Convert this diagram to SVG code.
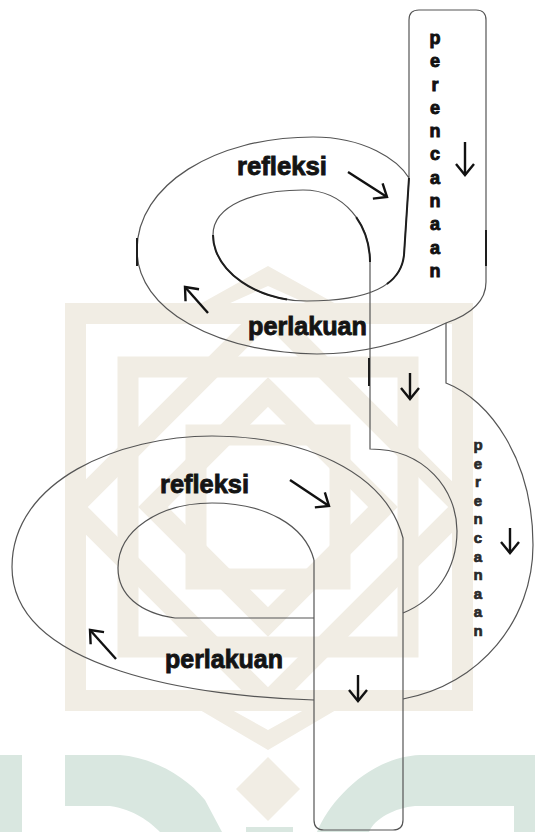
<svg xmlns="http://www.w3.org/2000/svg" width="535" height="832" viewBox="0 0 535 832">
<style>
.wm{fill:none;stroke:#f1ede4;stroke-width:21}
.wmf{fill:#f1ede4}
.tl{fill:#d9e7e0}
.ln{fill:none;stroke:#555;stroke-width:1.2}
.lnd{fill:none;stroke:#1e1e1e;stroke-width:2}
.ar{fill:none;stroke:#111;stroke-width:2.4;marker-end:url(#head)}
.lbl{font-family:"Liberation Sans",Arial,sans-serif;font-weight:bold;font-size:26px;fill:#141414;stroke:#141414;stroke-width:0.9}
.vt{font-family:"Liberation Sans",Arial,sans-serif;font-weight:bold;font-size:18px;fill:#111;stroke:#111;stroke-width:0.9;text-anchor:middle}
.vt2{font-family:"Liberation Sans",Arial,sans-serif;font-weight:bold;font-size:15px;fill:#2a2a2a;stroke:#2a2a2a;stroke-width:0.7;text-anchor:middle}
</style>
<defs>
<marker id="head" viewBox="-14 -12 16 24" markerWidth="16" markerHeight="24" refX="0" refY="0" orient="auto" markerUnits="userSpaceOnUse" overflow="visible">
<path d="M-11,-9 L0,0 L-11,9" fill="none" stroke="#111" stroke-width="2.4"/>
</marker>
<clipPath id="inner"><rect x="86" y="324" width="366" height="366"/></clipPath>
</defs>
<rect width="535" height="832" fill="#fff"/>
<g id="watermark">
<rect class="wm" x="75.5" y="313.5" width="387" height="387"/>
<g clip-path="url(#inner)">
<polygon class="wm" points="268,312 463,507 268,702 73,507"/>
<rect class="wm" x="128" y="367" width="280" height="280"/>
<polygon class="wm" points="268,392 383,507 268,622 153,507"/>
<rect class="wm" x="196" y="435" width="144" height="144"/>
</g>
<polygon class="wmf" points="200,304 268,266 336,304 308,304 268,286 228,304"/>
<polygon class="wmf" points="200,710 268,750 336,710 304,710 268,730 232,710"/>
<polygon class="wmf" points="268,757 300,789 268,821 236,789"/>
</g>
<g id="watermark-teal">
<rect class="tl" x="0" y="755" width="22" height="77"/>
<path class="tl" d="M65,755 H120 C150,757 185,775 205,800 L222,832 H160 C150,822 135,810 110,806 H65 Z"/>
<rect class="tl" x="246" y="827" width="47" height="5"/>
<path class="tl" d="M317,832 C330,800 370,757 420,755 H535 V832 H514 V806 H415 C395,808 375,818 369,832 Z"/>
</g>
<g id="connectors">
<path class="ln" d="M409,178 V20 Q409,10 419,10 H476 Q486,10 486,20 V282 C486,300 472,314 446,323 C415,338 372,354 317,354 C215,352 137,310 137,250 C137,185 215,137 313,137 C365,137 398,160 409,178"/>
<path class="ln" d="M409,178 L404,255 C401,285 370,301 307,301 C255,301 213,270 213,235 C213,205 255,190 303,190 C345,190 370,225 370,262 V449 C425,449 457,490 457,531 C457,570 435,600 403,613"/>
<path class="ln" d="M446,323 V383 C490,400 533,460 533,545 C533,620 480,685 403,699"/>
<path class="ln" d="M314,700 C200,697 12,670 12,567 C12,480 120,436 212,436 C300,436 385,470 403,538 V820 Q403,830 393,830 H324 Q314,830 314,820 V560"/>
<path class="ln" d="M314,618 H175 C140,613 118,595 118,568 C118,530 160,503 212,503 C265,503 305,525 314,560"/>
<path class="lnd" d="M137,238 V266"/>
<path class="lnd" d="M486,230 V266"/>
<path class="lnd" d="M409,178 L404,255 C401,285 370,301 307,301" stroke-dasharray="112 300"/>
<path class="lnd" d="M307,301 C255,301 213,270 213,235" stroke-dasharray="0 20 90"/>
<path class="lnd" d="M303,190 C345,190 370,225 370,262" stroke-dasharray="0 62 40"/>
<path class="lnd" d="M369,358 V386"/>
</g>
<g id="arrows">
<path class="ar" d="M465,142 L465,175"/>
<path class="ar" d="M348,172 L387,197"/>
<path class="ar" d="M208,313 L185,287"/>
<path class="ar" d="M410,373 L410,399"/>
<path class="ar" d="M290,480 L329,506"/>
<path class="ar" d="M510,528 L510,553"/>
<path class="ar" d="M116,659 L90,630"/>
<path class="ar" d="M358,675 L358,701"/>
</g>
<g id="perencanaan-1">
<text class="vt"><tspan x="435" y="44">p</tspan><tspan x="435" y="67">e</tspan><tspan x="435" y="91">r</tspan><tspan x="435" y="114">e</tspan><tspan x="435" y="137">n</tspan><tspan x="435" y="160">c</tspan><tspan x="435" y="184">a</tspan><tspan x="435" y="207">n</tspan><tspan x="435" y="230">a</tspan><tspan x="435" y="254">a</tspan><tspan x="435" y="277">n</tspan></text>
</g>
<g id="refleksi-1"><text class="lbl" x="237" y="175" textLength="90" lengthAdjust="spacingAndGlyphs">refleksi</text></g>
<g id="perlakuan-1"><text class="lbl" x="248" y="335" textLength="119" lengthAdjust="spacingAndGlyphs">perlakuan</text></g>
<g id="perencanaan-2">
<text class="vt2"><tspan x="478" y="450">p</tspan><tspan x="478" y="469">e</tspan><tspan x="478" y="487">r</tspan><tspan x="478" y="506">e</tspan><tspan x="478" y="524">n</tspan><tspan x="478" y="543">c</tspan><tspan x="478" y="562">a</tspan><tspan x="478" y="580">n</tspan><tspan x="478" y="599">a</tspan><tspan x="478" y="617">a</tspan><tspan x="478" y="636">n</tspan></text>
</g>
<g id="refleksi-2"><text class="lbl" x="160" y="493" textLength="89" lengthAdjust="spacingAndGlyphs">refleksi</text></g>
<g id="perlakuan-2"><text class="lbl" x="165" y="668" textLength="118" lengthAdjust="spacingAndGlyphs">perlakuan</text></g>
</svg>
